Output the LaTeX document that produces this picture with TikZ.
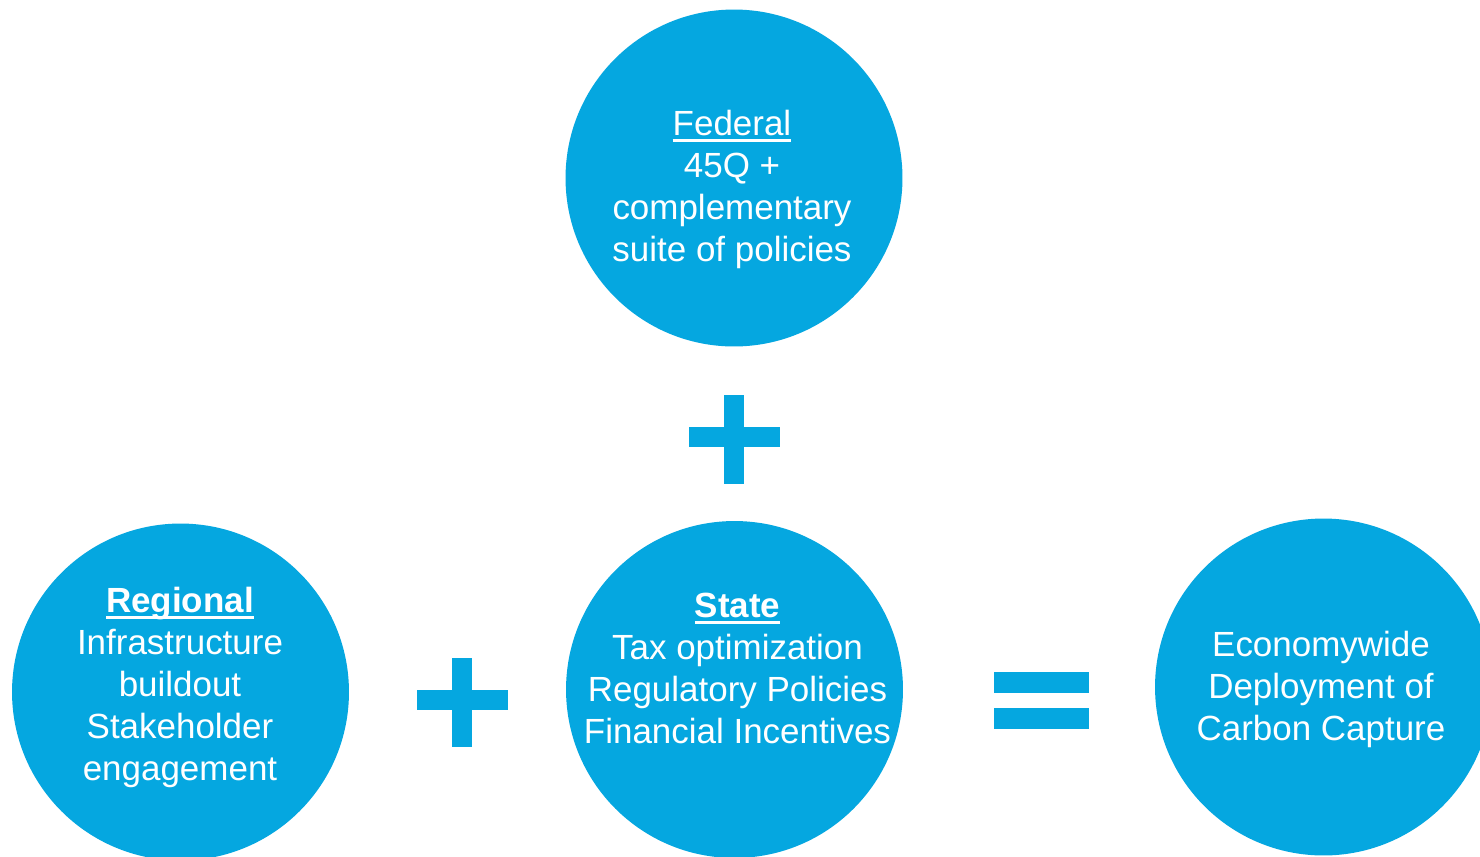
\documentclass[tikz,border=0pt]{standalone}
\usepackage{fontspec}
\setmainfont{Liberation Sans}
\usetikzlibrary{positioning}

\definecolor{bubbleblue}{HTML}{05A7E0}

% underlined heading word
\newsavebox{\ulbox}
\newcommand{\ulword}[1]{\sbox{\ulbox}{#1}\rlap{\rule[-4pt]{\wd\ulbox}{1.5pt}}\usebox{\ulbox}}

\tikzset{
	bubble/.style={circle, fill=bubbleblue, minimum size=6.74cm, inner sep=0pt},
	bubbletext/.style={text=white, align=center, inner sep=0pt,
		font=\fontsize{19.9}{23.9}\selectfont},
}

\begin{document}
\begin{tikzpicture}[x=0.02cm, y=-0.02cm]
	\path[use as bounding box, fill=white] (0,0) rectangle (1480,856);

	% Circles
	% -------
	\node[bubble] (federal) at (734,178) {};
	\node[bubble] (regional) at (180.5,692) {};
	\node[bubble] (state) at (734.5,689.5) {};
	\node[bubble] (economy) at (1323.5,687) {};

	% texts in the circles
	\node[bubbletext] (federaltext) at (732,189)
		{\ulword{Federal}\\45Q +\\complementary\\suite of policies};
	\node[bubbletext] (regionaltext) at (180,687)
		{\ulword{\textbf{Regional}}\\Infrastructure\\buildout\\Stakeholder\\engagement};
	\node[bubbletext] (statetext) at (737.5,668)
		{\ulword{\textbf{State}}\\Tax optimization\\Regulatory Policies\\Financial Incentives};
	\node[bubbletext] (economytext) at (1321,689)
		{Economywide\\Deployment of\\Carbon Capture};

	% plus and equals signs
	\foreach \px/\py in {734/439.5, 462/702.5}{
		\fill[bubbleblue] (\px-10,\py-44.5) rectangle (\px+10,\py+44.5);
		\fill[bubbleblue] (\px-45.5,\py-13) rectangle (\px+45.5,\py+7);
	}
	\fill[bubbleblue] (994,672) rectangle (1089,693);
	\fill[bubbleblue] (994,708) rectangle (1089,729);
\end{tikzpicture}
\end{document}
